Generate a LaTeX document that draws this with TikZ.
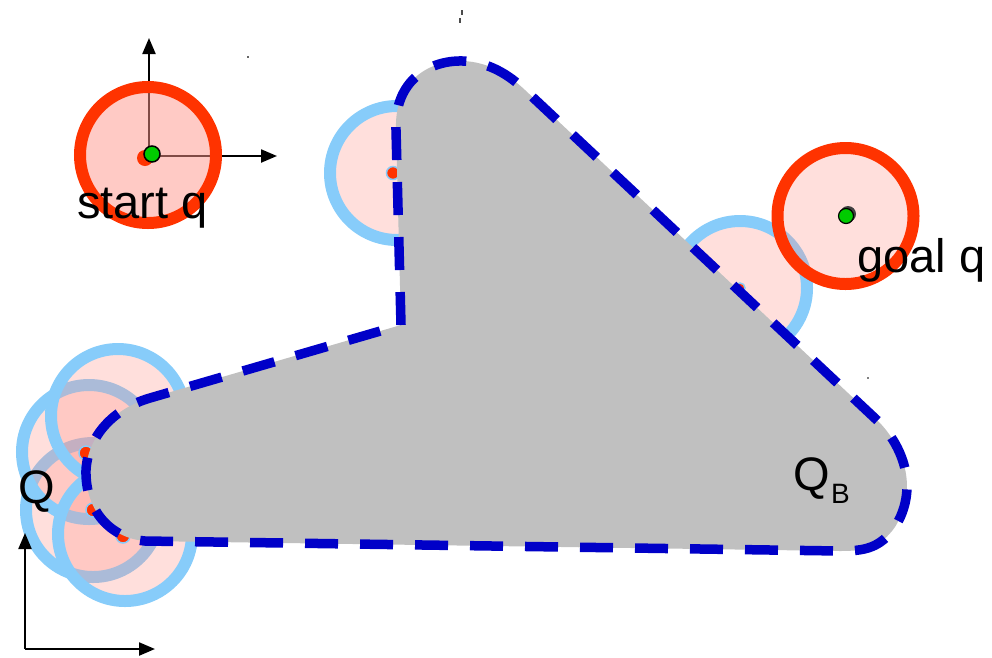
\documentclass[tikz,border=0pt]{standalone}
\usepackage{fontspec}
\setmainfont{Liberation Sans}
\usetikzlibrary{arrows.meta}
\definecolor{ringred}{RGB}{255,51,0}
\definecolor{ringblue}{RGB}{135,204,250}
\definecolor{pinkfill}{RGB}{255,150,140}
\definecolor{obst}{RGB}{192,192,192}
\definecolor{dashblue}{RGB}{0,0,200}
\definecolor{dotgreen}{RGB}{0,204,0}
\begin{document}
\begin{tikzpicture}[x=1pt,y=-1pt,
  axis/.style={draw=black, line width=2.2pt, -{Triangle[length=16pt,width=13pt]}},
  bluerobot/.style={fill=pinkfill, fill opacity=0.3, draw=ringblue, draw opacity=1, line width=12pt},
  redrobot/.style={fill=pinkfill, fill opacity=0.3, draw=ringred, draw opacity=1, line width=12pt},
  startrobot/.style={fill=pinkfill, fill opacity=0.5, draw=ringred, draw opacity=1, line width=12pt},
  cdot/.style={fill=ringred, draw=ringblue, line width=1.5pt},
  obstacle/.style={fill=obst},
  obsline/.style={draw=dashblue, line width=9.5pt, dash pattern=on 33pt off 22pt},
  lbl/.style={font=\fontsize{47}{56}\selectfont, inner sep=0pt, anchor=base west},
  sublbl/.style={font=\fontsize{28}{34}\selectfont, inner sep=0pt, anchor=base west}
]
\useasboundingbox (0,0) rectangle (992,657);

% start frame axes
\coordinate (so) at (149,156);
\coordinate (sy) at (149,38);
\coordinate (sx) at (277,156);
\draw[axis] (so) -- (sy);
\draw[axis] (so) -- (sx);

% start configuration
\path[startrobot] (148,155) circle[radius=68];
\fill[ringred] (145,158) circle[radius=8];
\filldraw[fill=dotgreen, draw=black, line width=1.5pt] (152,154) circle[radius=8];

% blue configurations touching the obstacle
\path[bluerobot] (397,173) circle[radius=67];
\path[bluerobot] (740,288) circle[radius=67];
\path[bluerobot] (93,510) circle[radius=67];
\path[bluerobot] (89,452) circle[radius=67];
\path[bluerobot] (118,416) circle[radius=67];
\path[bluerobot] (125,534) circle[radius=67];
\filldraw[cdot] (393,173) circle[radius=6.5];
\filldraw[cdot] (740,288) circle[radius=5];
\filldraw[cdot] (86,453) circle[radius=7];
\filldraw[cdot] (93,510) circle[radius=7];
\filldraw[cdot] (123,536) circle[radius=7];

% goal configuration
\path[redrobot] (845.5,216) circle[radius=68];
\fill[black!75] (848,214) circle[radius=8];
\filldraw[fill=dotgreen, draw=black, line width=1.2pt] (846,216) circle[radius=7.5];

% configuration-space obstacle
\path[obstacle] (401,325) -- (396,130) .. controls (394,80) and (430,60) .. (463,61)
  .. controls (488,62) and (508,74) .. (525,90) -- (880,423)
  .. controls (905,450) and (918,490) .. (895,527)
  .. controls (880,548) and (865,551) .. (840,551) -- (145,541)
  .. controls (110,538) and (85,510) .. (86,470)
  .. controls (88,435) and (115,408) .. (150,398) -- cycle;
\path[obsline] (401,325) -- (396,130) .. controls (394,80) and (430,60) .. (463,61)
  .. controls (488,62) and (508,74) .. (525,90) -- (880,423)
  .. controls (905,450) and (918,490) .. (895,527)
  .. controls (880,548) and (865,551) .. (840,551) -- (145,541)
  .. controls (110,538) and (85,510) .. (86,470)
  .. controls (88,435) and (115,408) .. (150,398) -- cycle;

% stray marks
\fill[black!70] (461,10) rectangle (463,15);
\fill[black!70] (459,18) rectangle (461,23);
\fill[black!60] (247,56) rectangle (249,58);
\fill[black!50] (867,377) rectangle (869,379);

% labels
\node[lbl] (startlbl) at (77,218) {start q};
\node[lbl] (goallbl) at (857,272) {goal q};
\node[lbl] (qlbl) at (18,503) {Q};
\node[lbl] (qblbl) at (793,490) {Q};
\node[sublbl] (qbsub) at (831,503) {B};

% world frame axes
\coordinate (wo) at (25,649);
\coordinate (wy) at (25,533);
\coordinate (wx) at (155,649);
\draw[axis] (wo) -- (wy);
\draw[axis] (wo) -- (wx);
\end{tikzpicture}
\end{document}
